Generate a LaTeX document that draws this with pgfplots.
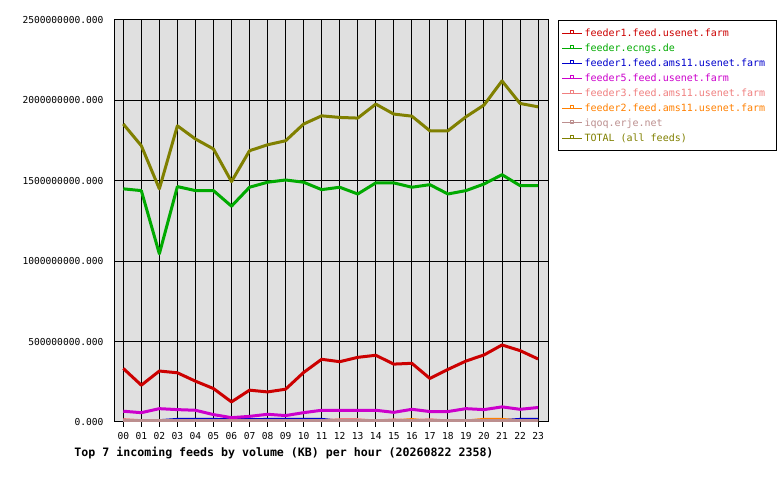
\documentclass[border=0pt]{standalone}
\usepackage{fontspec}
\setmainfont{DejaVu Sans Mono}
\usepackage{pgfplots}
\usepackage{pgfplotstable}
\pgfplotsset{compat=1.18}

\definecolor{cred}{RGB}{204,0,0}
\definecolor{cgreen}{RGB}{0,170,0}
\definecolor{cblue}{RGB}{0,0,204}
\definecolor{cmag}{RGB}{204,0,204}
\definecolor{cpink}{RGB}{240,128,128}
\definecolor{corange}{RGB}{255,128,0}
\definecolor{crosy}{RGB}{188,143,143}
\definecolor{colive}{RGB}{128,128,0}
\definecolor{plotbg}{RGB}{224,224,224}

% volumes per hour, in millions of KB
\pgfplotstableread{
h  red  green blue mag pink orange rosy total
0  333  1450  5   67  15   4      8    1853
1  229  1439  5   58  8    4      8    1718
2  317  1046  8   83  6    4      8    1450
3  306  1464  16  77  6    4      8    1842
4  254  1439  16  73  6    4      8    1760
5  208  1439  16  46  6    4      8    1698
6  125  1342  14  27  6    4      8    1495
7  198  1460  14  35  6    4      8    1687
8  187  1491  16  48  6    4      8    1724
9  204  1505  16  40  6    4      8    1749
10 308  1491  16  58  6    4      8    1853
11 390  1445  16  73  8    4      8    1904
12 375  1460  5   73  14   4      8    1894
13 402  1418  5   73  14   4      8    1890
14 415  1487  5   73  6    4      8    1977
15 360  1487  5   60  13   6      8    1915
16 365  1460  5   79  8    15     8    1902
17 271  1476  5   65  14   4      8    1811
18 327  1418  5   65  6    4      8    1811
19 379  1439  5   83  6    6      8    1898
20 417  1480  5   77  6    16     8    1971
21 479  1538  8   94  6    16     8    2121
22 444  1470  16  79  6    6      8    1981
23 392  1470  16  90  6    6      8    1960
}\feeds

\pgfplotsset{
    frame/.style={
        at={(114bp,58bp)}, anchor=south west,
        scale only axis, width=434bp, height=402bp,
        xmin=-0.515, xmax=23.55, ymin=0, ymax=2500,
    },
}

\begin{document}
\begin{tikzpicture}
\path[use as bounding box] (0,0) rectangle (780bp,480bp);
\begin{axis}[
    frame,
    axis background/.style={fill=plotbg},
    axis line style={black, line width=1bp},
    xtick={0,...,23},
    xticklabels={00,01,02,03,04,05,06,07,08,09,10,11,12,13,14,15,16,17,18,19,20,21,22,23},
    ytick={0,500,...,2500},
    yticklabels={0.000,500000000.000,1000000000.000,1500000000.000,2000000000.000,2500000000.000},
    tick align=outside, tick pos=left, major tick length=5bp,
    x tick style={black, line width=1bp},
    y tick style={draw=none},
    grid=major, grid style={black, line width=1bp},
    ticklabel style={font=\fontsize{9.6bp}{11bp}\selectfont},
    xticklabel style={yshift=-2bp},
    yticklabel style={xshift=-2bp},
    every axis plot/.append style={line width=3bp, line join=round, no markers},
    legend cell align=left,
    legend style={at={(1,1)}, anchor=north west, xshift=10bp, yshift=0bp,
        draw=black, line width=1bp, fill=white,
        font=\fontsize{10bp}{11bp}\selectfont,
        inner xsep=3bp, inner ysep=8bp, row sep=5.9bp,
        nodes={inner sep=0pt, inner xsep=2bp}},
    legend image code/.code={
        \draw[#1, line width=1bp] (0bp,0bp) -- (20bp,0bp);
        \draw[#1, line width=0.8bp] (8.5bp,0bp) rectangle (11.5bp,2.5bp);
    },
]
\addplot[cred] table[x=h, y=red] {\feeds};
\addlegendentry{\textcolor{cred}{feeder1.feed.usenet.farm}}
\addplot[cgreen] table[x=h, y=green] {\feeds};
\addlegendentry{\textcolor{cgreen}{feeder.ecngs.de}}
\addplot[cblue] table[x=h, y=blue] {\feeds};
\addlegendentry{\textcolor{cblue}{feeder1.feed.ams11.usenet.farm}\hspace*{6bp}}
\addplot[cmag] table[x=h, y=mag] {\feeds};
\addlegendentry{\textcolor{cmag}{feeder5.feed.usenet.farm}}
\addplot[cpink] table[x=h, y=pink] {\feeds};
\addlegendentry{\textcolor{cpink}{feeder3.feed.ams11.usenet.farm}}
\addplot[corange] table[x=h, y=orange] {\feeds};
\addlegendentry{\textcolor{corange}{feeder2.feed.ams11.usenet.farm}}
\addplot[crosy] table[x=h, y=rosy] {\feeds};
\addlegendentry{\textcolor{crosy}{iqoq.erje.net}}
\addplot[colive] table[x=h, y=total] {\feeds};
\addlegendentry{\textcolor{colive}{TOTAL (all feeds)}}
\end{axis}
% longer y ticks, drawn by an overlay axis
\begin{axis}[
    frame,
    axis lines=none,
    xtick=\empty,
    ytick={0,500,...,2500}, yticklabels={},
    tick align=outside, tick pos=left, major tick length=9bp,
    y tick style={black, line width=1bp},
]
\end{axis}
\node[anchor=base, font=\bfseries\fontsize{11.6bp}{14bp}\selectfont] at (284bp,24bp)
    {Top 7 incoming feeds by volume (KB) per hour (20260822 2358)};
\end{tikzpicture}
\end{document}
